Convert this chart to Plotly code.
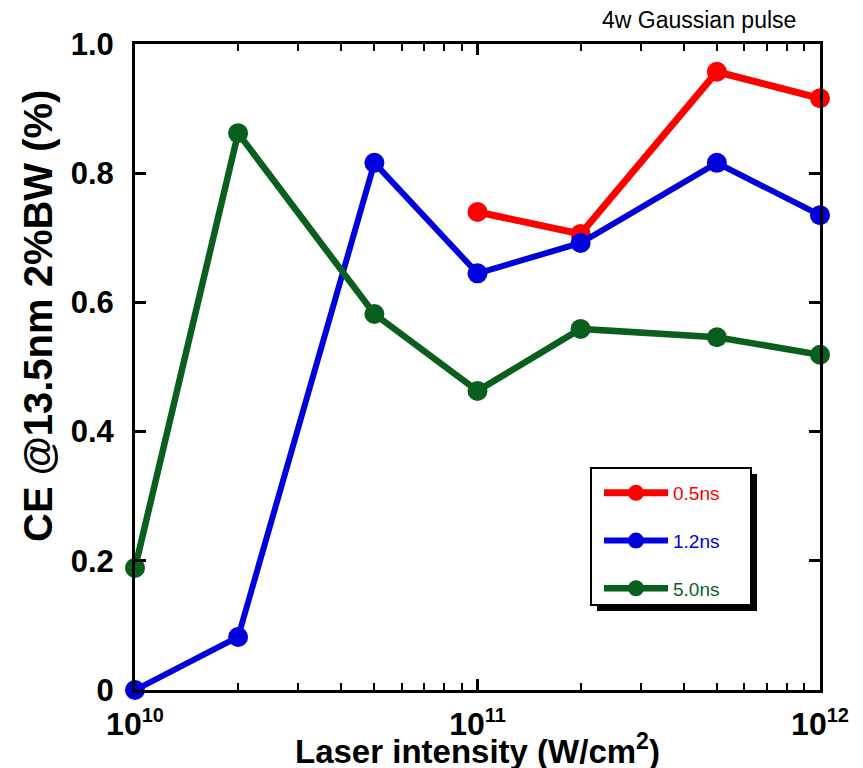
import plotly.graph_objects as go

intensity = [1e10, 2e10, 5e10, 1e11, 2e11, 5e11, 1e12]
ce_05ns_x = [1e11, 2e11, 5e11, 1e12]
ce_05ns = [0.740, 0.706, 0.957, 0.916]
ce_12ns = [0.000, 0.082, 0.816, 0.645, 0.692, 0.816, 0.735]
ce_50ns = [0.189, 0.862, 0.582, 0.463, 0.559, 0.546, 0.519]

series_names = ["0.5ns", "1.2ns", "5.0ns"]
colors = ["#ff0000", "#0000dd", "#0a5f1e"]

x_tickvals = [1e10, 1e11, 1e12]
x_ticktext = ['10<sup><span style="font-size:20px">10</span></sup>',
              '10<sup><span style="font-size:20px">11</span></sup>',
              '10<sup><span style="font-size:20px">12</span></sup>']
x_minor_vals = [m * 10 ** e for e in (10, 11) for m in range(2, 10)]
y_tickvals = [0, 0.2, 0.4, 0.6, 0.8, 1.0]
y_ticktext = ["0", "0.2", "0.4", "0.6", "0.8", "1.0"]

FONT = "Liberation Sans, Arial, sans-serif"
OFF = 7  # page body offset
L, R, T, B = 134, 819, 43, 689  # plot area in screen px
PW, PH = R - L, B - T


def px(x):
    return (x - L) / PW


def py(y):
    return (B - y) / PH


fig = go.Figure()
data = [(ce_05ns_x, ce_05ns, 7), (intensity, ce_12ns, 6), (intensity, ce_50ns, 6.5)]
for i, ((xs, ys, lw), name, c) in enumerate(zip(data, series_names, colors)):
    fig.add_trace(go.Scatter(
        x=xs, y=ys, mode="lines+markers",
        name=f'<span style="color:{c}">{name}</span>',
        legendgroup=f"g{i}",
        line=dict(color=c, width=lw),
        marker=dict(color=c, size=20),
        cliponaxis=False,
    ))

# legend box with drop shadow
fig.add_shape(type="rect", xref="paper", yref="paper",
              x0=px(596), x1=px(756), y0=py(610), y1=py(473),
              fillcolor="black", line=dict(color="black", width=0), layer="below")
fig.add_shape(type="rect", xref="paper", yref="paper",
              x0=px(590), x1=px(750), y0=py(604), y1=py(467),
              fillcolor="white", line=dict(color="black", width=2), layer="below")

fig.add_annotation(text="4w Gaussian pulse", xref="paper", yref="paper",
                   x=px(797), y=py(19), xanchor="right", yanchor="middle",
                   showarrow=False,
                   font=dict(family=FONT, size=23, color="black"))

fig.add_annotation(text="CE @13.5nm 2%BW (%)", xref="paper", yref="paper",
                   x=px(37), y=py(315), xanchor="center", yanchor="middle",
                   textangle=-90, showarrow=False,
                   font=dict(family=FONT, size=40, color="black", weight="bold"))

fig.add_annotation(text="Laser intensity (W/cm<sup>2</sup>)", xref="paper", yref="paper",
                   x=px(476), y=py(748), xanchor="center", yanchor="middle",
                   showarrow=False,
                   font=dict(family=FONT, size=33, color="black", weight="bold"))

fig.update_layout(
    width=863, height=768,
    margin=dict(l=L - OFF, r=863 - R + OFF, t=T - OFF, b=768 - B + OFF),
    plot_bgcolor="white", paper_bgcolor="white",
    font=dict(family=FONT, color="black"),
    showlegend=True,
    legend=dict(x=px(598), y=py(473), xanchor="left", yanchor="top",
                bgcolor="rgba(0,0,0,0)", borderwidth=0,
                font=dict(family=FONT, size=19),
                traceorder="grouped", tracegroupgap=20, itemwidth=64),
    xaxis=dict(
        type="log", range=[10, 12],
        tickvals=x_tickvals, ticktext=x_ticktext,
        ticks="inside", ticklen=11, tickwidth=2.5, tickcolor="black",
        minor=dict(tickvals=x_minor_vals, ticks="inside", ticklen=7,
                   tickwidth=2, tickcolor="black", showgrid=False),
        showline=True, linewidth=3, linecolor="black", mirror="ticks",
        showgrid=False, zeroline=False, ticklabelstandoff=4,
        tickfont=dict(family=FONT, size=32, weight="bold"),
    ),
    yaxis=dict(
        range=[0, 1.0],
        tickvals=y_tickvals, ticktext=y_ticktext,
        ticks="inside", ticklen=11, tickwidth=2.5, tickcolor="black",
        showline=True, linewidth=3, linecolor="black", mirror="ticks",
        showgrid=False, zeroline=False, ticklabelstandoff=12,
        tickfont=dict(family=FONT, size=31, weight="bold"),
    ),
)

fig.write_html("out.html")
